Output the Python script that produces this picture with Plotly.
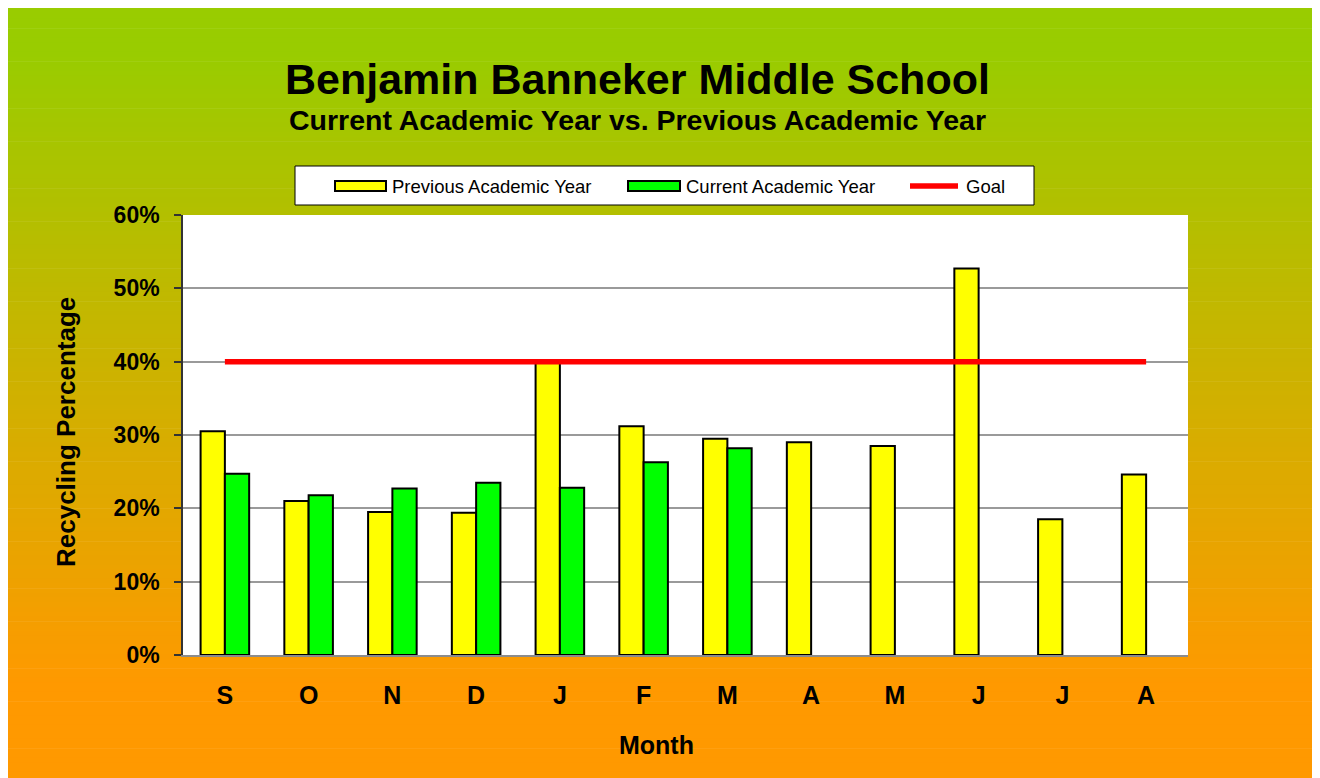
import plotly.graph_objects as go

# ---- data ----
months = ["S", "O", "N", "D", "J", "F", "M", "A", "M", "J", "J", "A"]
previous_year = [30.5, 21.0, 19.5, 19.4, 40.0, 31.2, 29.5, 29.0, 28.5, 52.7, 18.5, 24.6]
current_year = [24.7, 21.8, 22.7, 23.5, 22.8, 26.3, 28.2, None, None, None, None, None]
goal = [40, 40, 40, 40, 40, 40, 40, 40, 40, 40, 40, 40]
y_ticks = [0, 10, 20, 30, 40, 50, 60]
y_tick_labels = ["0%", "10%", "20%", "30%", "40%", "50%", "60%"]
series_names = ["Previous Academic Year", "Current Academic Year", "Goal"]

# page body has an 8px margin, so the figure is drawn at screen offset (8, 8)
OFF = 8
W, H = 1320 - OFF, 778 - OFF
PL, PR, PT, PB = 183, 1188, 215, 655   # plot area in screen pixels
FONT = "Liberation Sans, Arial, Helvetica, sans-serif"


def px(x):
    return (x - PL) / (PR - PL)


def py(y):
    return (PB - y) / (PB - PT)


idx = list(range(len(months)))

fig = go.Figure()
fig.add_bar(x=idx, y=previous_year, name=series_names[0],
            marker=dict(color="#FFFF00", line=dict(color="black", width=2)))
fig.add_bar(x=idx, y=current_year, name=series_names[1],
            marker=dict(color="#00FF00", line=dict(color="black", width=2)))
fig.add_scatter(x=idx, y=goal, name=series_names[2], mode="lines",
                line=dict(color="#FF0000", width=5.5))

# ---- background gradient (green top -> orange bottom) ----
shapes = []
top_c = (153, 204, 0)
bot_c = (255, 153, 0)
g_start, g_end = 55, 685     # gradient ramp (screen px)
y_lo, y_hi = 0, 800
n = 170
step = (y_hi - y_lo) / n
for i in range(n):
    y0 = y_lo + i * step
    y1 = y0 + step + 0.6
    t = min(1.0, max(0.0, ((y0 + step / 2) - g_start) / (g_end - g_start)))
    c = tuple(round(top_c[k] + (bot_c[k] - top_c[k]) * t) for k in range(3))
    shapes.append(dict(type="rect", xref="paper", yref="paper", layer="below",
                       x0=px(0), x1=px(1340), y0=py(y1), y1=py(y0),
                       fillcolor="rgb(%d,%d,%d)" % c, line=dict(width=0)))
# white plot area
shapes.append(dict(type="rect", xref="x domain", yref="y domain", layer="below",
                   x0=0, x1=1, y0=0, y1=1, fillcolor="white", line=dict(width=0)))

# ---- custom legend ----
shapes.append(dict(type="rect", xref="paper", yref="paper",
                   x0=px(295), x1=px(1034), y0=py(205), y1=py(166),
                   fillcolor="white", line=dict(color="black", width=1)))
shapes.append(dict(type="rect", xref="paper", yref="paper",
                   x0=px(335), x1=px(386), y0=py(191), y1=py(181),
                   fillcolor="#FFFF00", line=dict(color="black", width=2)))
shapes.append(dict(type="rect", xref="paper", yref="paper",
                   x0=px(628), x1=px(680), y0=py(191), y1=py(181),
                   fillcolor="#00FF00", line=dict(color="black", width=2)))
shapes.append(dict(type="line", xref="paper", yref="paper",
                   x0=px(910), x1=px(958), y0=py(186), y1=py(186),
                   line=dict(color="#FF0000", width=5.5)))

annotations = [
    dict(text="Benjamin Banneker Middle School", x=px(637), y=py(79),
         font=dict(family=FONT, size=43, color="black", weight="bold")),
    dict(text="Current Academic Year vs. Previous Academic Year", x=px(637), y=py(120),
         font=dict(family=FONT, size=28.5, color="black", weight="bold")),
    dict(text="Month", x=px(656), y=py(745),
         font=dict(family=FONT, size=25, color="black", weight="bold")),
    dict(text="Recycling Percentage", x=px(66), y=py(432), textangle=-90,
         font=dict(family=FONT, size=26, color="black", weight="bold")),
]
for name, xl in zip(series_names, [390, 684, 964]):
    annotations.append(dict(text=name, x=px(xl), y=py(186), xanchor="left",
                            font=dict(family=FONT, size=18.5, color="black")))
for a in annotations:
    a.setdefault("xanchor", "center")
    a.update(xref="paper", yref="paper", yanchor="middle", showarrow=False)

fig.update_layout(
    width=W, height=H, autosize=False,
    margin=dict(l=PL - OFF, r=W - (PR - OFF), t=PT - OFF, b=H - (PB - OFF), pad=0),
    paper_bgcolor="white", plot_bgcolor="white",
    barmode="group", bargap=0.42, bargroupgap=0,
    showlegend=False,
    shapes=shapes, annotations=annotations,
    font=dict(family=FONT, color="black"),
)
fig.update_xaxes(range=[-0.5, 11.5], tickvals=idx, ticktext=months,
                 tickfont=dict(family=FONT, size=25, color="black", weight="bold"),
                 showgrid=False, zeroline=False, showline=True,
                 linecolor="#8c8c8c", linewidth=2, ticks="", ticklabelstandoff=17,
                 fixedrange=True)
fig.update_yaxes(range=[0, 60], tickvals=y_ticks, ticktext=y_tick_labels,
                 tickfont=dict(family=FONT, size=23, color="black", weight="bold"),
                 showgrid=True, gridcolor="#9a9a9a", gridwidth=1.5, zeroline=False,
                 showline=True, linecolor="#333333", linewidth=1.5,
                 ticks="outside", ticklen=7, tickcolor="#333333", tickwidth=1.5,
                 ticklabelstandoff=10, fixedrange=True)

fig.write_html("out.html")
